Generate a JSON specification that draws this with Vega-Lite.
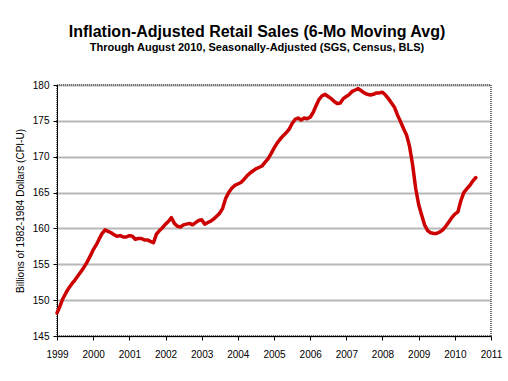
{
  "$schema": "https://vega.github.io/schema/vega-lite/v6.json",
  "width": 434,
  "height": 251,
  "autosize": {"type": "none"},
  "padding": {"left": 57, "top": 85, "right": 17, "bottom": 45},
  "background": "white",
  "title": {
    "text": "Inflation-Adjusted Retail Sales (6-Mo Moving Avg)",
    "subtitle": "Through August 2010, Seasonally-Adjusted (SGS, Census, BLS)",
    "font": "Liberation Sans",
    "fontSize": 16,
    "fontWeight": "bold",
    "color": "black",
    "subtitleFont": "Liberation Sans",
    "subtitleFontSize": 11,
    "subtitleFontWeight": "bold",
    "subtitleColor": "black",
    "subtitlePadding": 2,
    "anchor": "middle",
    "dx": -17,
    "offset": 27
  },
  "config": {
    "view": {"stroke": "#707070", "strokeWidth": 2, "strokeDash": [1, 1]},
    "axis": {
      "labelFont": "Liberation Sans",
      "labelFontSize": 10,
      "labelColor": "black",
      "titleFont": "Liberation Sans",
      "titleColor": "black",
      "domainColor": "black",
      "tickColor": "black",
      "domainWidth": 1,
      "tickWidth": 1
    }
  },
  "data": {
    "values": [
      {"date": "1999/01/01", "value": 148.2},
      {"date": "1999/02/01", "value": 149.2},
      {"date": "1999/03/01", "value": 150.2},
      {"date": "1999/04/01", "value": 151.0},
      {"date": "1999/05/01", "value": 151.7},
      {"date": "1999/06/01", "value": 152.3},
      {"date": "1999/07/01", "value": 152.8},
      {"date": "1999/08/01", "value": 153.4},
      {"date": "1999/09/01", "value": 154.0},
      {"date": "1999/10/01", "value": 154.6},
      {"date": "1999/11/01", "value": 155.3},
      {"date": "1999/12/01", "value": 156.1},
      {"date": "2000/01/01", "value": 157.0},
      {"date": "2000/02/01", "value": 157.7},
      {"date": "2000/03/01", "value": 158.5},
      {"date": "2000/04/01", "value": 159.3},
      {"date": "2000/05/01", "value": 159.8},
      {"date": "2000/06/01", "value": 159.6},
      {"date": "2000/07/01", "value": 159.4},
      {"date": "2000/08/01", "value": 159.1},
      {"date": "2000/09/01", "value": 158.9},
      {"date": "2000/10/01", "value": 159.0},
      {"date": "2000/11/01", "value": 158.8},
      {"date": "2000/12/01", "value": 158.8},
      {"date": "2001/01/01", "value": 159.0},
      {"date": "2001/02/01", "value": 158.9},
      {"date": "2001/03/01", "value": 158.5},
      {"date": "2001/04/01", "value": 158.6},
      {"date": "2001/05/01", "value": 158.6},
      {"date": "2001/06/01", "value": 158.4},
      {"date": "2001/07/01", "value": 158.4},
      {"date": "2001/08/01", "value": 158.2},
      {"date": "2001/09/01", "value": 158.0},
      {"date": "2001/10/01", "value": 159.2},
      {"date": "2001/11/01", "value": 159.7},
      {"date": "2001/12/01", "value": 160.1},
      {"date": "2002/01/01", "value": 160.6},
      {"date": "2002/02/01", "value": 161.0},
      {"date": "2002/03/01", "value": 161.5},
      {"date": "2002/04/01", "value": 160.7},
      {"date": "2002/05/01", "value": 160.3},
      {"date": "2002/06/01", "value": 160.2},
      {"date": "2002/07/01", "value": 160.5},
      {"date": "2002/08/01", "value": 160.6},
      {"date": "2002/09/01", "value": 160.7},
      {"date": "2002/10/01", "value": 160.5},
      {"date": "2002/11/01", "value": 160.8},
      {"date": "2002/12/01", "value": 161.1},
      {"date": "2003/01/01", "value": 161.2},
      {"date": "2003/02/01", "value": 160.6},
      {"date": "2003/03/01", "value": 160.8},
      {"date": "2003/04/01", "value": 161.0},
      {"date": "2003/05/01", "value": 161.3},
      {"date": "2003/06/01", "value": 161.7},
      {"date": "2003/07/01", "value": 162.1},
      {"date": "2003/08/01", "value": 162.8},
      {"date": "2003/09/01", "value": 164.2},
      {"date": "2003/10/01", "value": 165.0},
      {"date": "2003/11/01", "value": 165.6},
      {"date": "2003/12/01", "value": 166.0},
      {"date": "2004/01/01", "value": 166.2},
      {"date": "2004/02/01", "value": 166.4},
      {"date": "2004/03/01", "value": 166.8},
      {"date": "2004/04/01", "value": 167.3},
      {"date": "2004/05/01", "value": 167.7},
      {"date": "2004/06/01", "value": 168.0},
      {"date": "2004/07/01", "value": 168.3},
      {"date": "2004/08/01", "value": 168.5},
      {"date": "2004/09/01", "value": 168.7},
      {"date": "2004/10/01", "value": 169.2},
      {"date": "2004/11/01", "value": 169.7},
      {"date": "2004/12/01", "value": 170.4},
      {"date": "2005/01/01", "value": 171.2},
      {"date": "2005/02/01", "value": 171.9},
      {"date": "2005/03/01", "value": 172.4},
      {"date": "2005/04/01", "value": 172.9},
      {"date": "2005/05/01", "value": 173.3},
      {"date": "2005/06/01", "value": 173.8},
      {"date": "2005/07/01", "value": 174.6},
      {"date": "2005/08/01", "value": 175.2},
      {"date": "2005/09/01", "value": 175.4},
      {"date": "2005/10/01", "value": 175.1},
      {"date": "2005/11/01", "value": 175.4},
      {"date": "2005/12/01", "value": 175.3},
      {"date": "2006/01/01", "value": 175.5},
      {"date": "2006/02/01", "value": 176.2},
      {"date": "2006/03/01", "value": 177.1},
      {"date": "2006/04/01", "value": 178.0},
      {"date": "2006/05/01", "value": 178.5},
      {"date": "2006/06/01", "value": 178.7},
      {"date": "2006/07/01", "value": 178.4},
      {"date": "2006/08/01", "value": 178.1},
      {"date": "2006/09/01", "value": 177.7},
      {"date": "2006/10/01", "value": 177.4},
      {"date": "2006/11/01", "value": 177.5},
      {"date": "2006/12/01", "value": 178.1},
      {"date": "2007/01/01", "value": 178.4},
      {"date": "2007/02/01", "value": 178.7},
      {"date": "2007/03/01", "value": 179.1},
      {"date": "2007/04/01", "value": 179.3},
      {"date": "2007/05/01", "value": 179.5},
      {"date": "2007/06/01", "value": 179.2},
      {"date": "2007/07/01", "value": 178.9},
      {"date": "2007/08/01", "value": 178.7},
      {"date": "2007/09/01", "value": 178.6},
      {"date": "2007/10/01", "value": 178.7},
      {"date": "2007/11/01", "value": 178.9},
      {"date": "2007/12/01", "value": 178.9},
      {"date": "2008/01/01", "value": 179.0},
      {"date": "2008/02/01", "value": 178.6},
      {"date": "2008/03/01", "value": 178.1},
      {"date": "2008/04/01", "value": 177.5},
      {"date": "2008/05/01", "value": 176.9},
      {"date": "2008/06/01", "value": 175.8},
      {"date": "2008/07/01", "value": 174.9},
      {"date": "2008/08/01", "value": 173.9},
      {"date": "2008/09/01", "value": 173.0},
      {"date": "2008/10/01", "value": 171.4},
      {"date": "2008/11/01", "value": 168.8},
      {"date": "2008/12/01", "value": 165.6},
      {"date": "2009/01/01", "value": 163.3},
      {"date": "2009/02/01", "value": 161.8},
      {"date": "2009/03/01", "value": 160.5},
      {"date": "2009/04/01", "value": 159.7},
      {"date": "2009/05/01", "value": 159.4},
      {"date": "2009/06/01", "value": 159.3},
      {"date": "2009/07/01", "value": 159.3},
      {"date": "2009/08/01", "value": 159.5},
      {"date": "2009/09/01", "value": 159.8},
      {"date": "2009/10/01", "value": 160.3},
      {"date": "2009/11/01", "value": 160.9},
      {"date": "2009/12/01", "value": 161.5},
      {"date": "2010/01/01", "value": 162.0},
      {"date": "2010/02/01", "value": 162.3},
      {"date": "2010/03/01", "value": 163.8},
      {"date": "2010/04/01", "value": 165.0},
      {"date": "2010/05/01", "value": 165.5},
      {"date": "2010/06/01", "value": 166.0},
      {"date": "2010/07/01", "value": 166.6},
      {"date": "2010/08/01", "value": 167.1}
    ],
    "format": {"parse": {"date": "date"}}
  },
  "mark": {"type": "line", "color": "#CC0000", "strokeWidth": 3.5, "strokeJoin": "round", "strokeCap": "round"},
  "encoding": {
    "x": {
      "field": "date",
      "type": "temporal",
      "scale": {"domain": [{"year": 1999, "month": 1, "date": 1}, {"year": 2011, "month": 1, "date": 1}]},
      "axis": {
        "title": null,
        "format": "%Y",
        "values": [
          {"year": 1999, "month": 1, "date": 1}, {"year": 2000, "month": 1, "date": 1},
          {"year": 2001, "month": 1, "date": 1}, {"year": 2002, "month": 1, "date": 1},
          {"year": 2003, "month": 1, "date": 1}, {"year": 2004, "month": 1, "date": 1},
          {"year": 2005, "month": 1, "date": 1}, {"year": 2006, "month": 1, "date": 1},
          {"year": 2007, "month": 1, "date": 1}, {"year": 2008, "month": 1, "date": 1},
          {"year": 2009, "month": 1, "date": 1}, {"year": 2010, "month": 1, "date": 1},
          {"year": 2011, "month": 1, "date": 1}
        ],
        "grid": false,
        "tickSize": 4,
        "labelPadding": 9,
        "labelFlush": false,
        "labelOverlap": false
      }
    },
    "y": {
      "field": "value",
      "type": "quantitative",
      "scale": {"domain": [145, 180], "nice": false, "zero": false},
      "axis": {
        "title": "Billions of 1982-1984 Dollars (CPI-U)",
        "titleFontSize": 10,
        "titleFontWeight": "normal",
        "titlePadding": 7,
        "values": [145, 150, 155, 160, 165, 170, 175, 180],
        "tickSize": 4,
        "labelPadding": 4,
        "gridColor": "#707070",
        "gridWidth": 2,
        "gridDash": [1, 1],
        "gridOpacity": 1
      }
    }
  }
}
